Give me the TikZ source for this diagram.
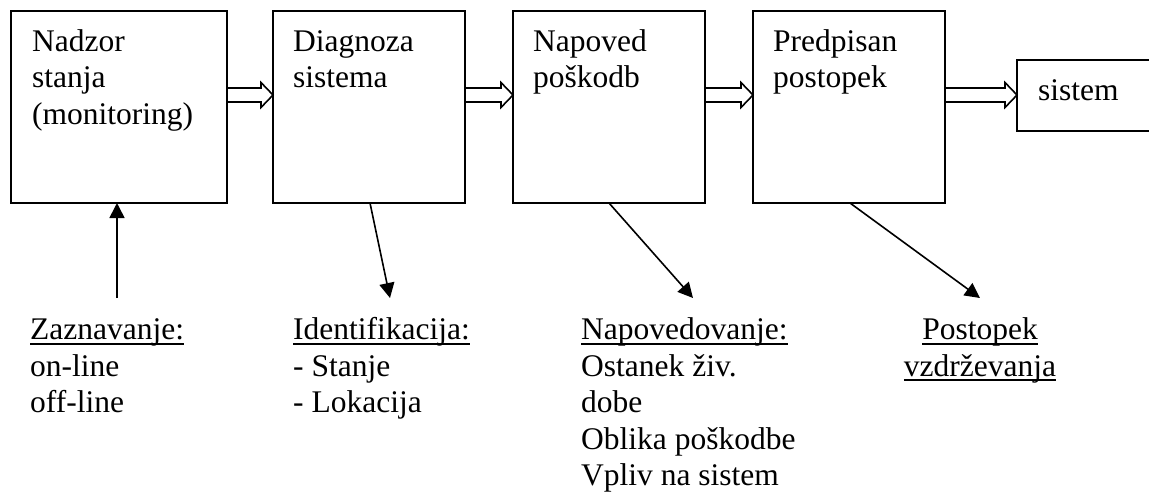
\documentclass[tikz,border=0pt]{standalone}
\usepackage{fontspec}
\setmainfont{Liberation Serif}
\usetikzlibrary{arrows.meta,calc}
\newcommand{\myul}[1]{\setbox0\hbox{#1}\rlap{\rule[-5pt]{\wd0}{1.8pt}}\box0}
\newcommand{\harr}[2]{\draw[hollow] ($(#1)+(0,-7)$) -- ($(#2)+(-12,-7)$) -- ($(#2)+(-12,-12.5)$) -- (#2) -- ($(#2)+(-12,12.5)$) -- ($(#2)+(-12,7)$) -- ($(#1)+(0,7)$) -- cycle;}
\begin{document}
\begin{tikzpicture}[x=1pt,y=-1pt,
  box/.style={draw, line width=1.6pt, inner sep=0pt, outer sep=0pt, anchor=north west},
  bigbox/.style={box, minimum width=192pt, minimum height=192pt},
  txt/.style={anchor=base west, inner sep=0pt, font=\fontsize{31.5}{36.5}\selectfont},
  ctxt/.style={txt, anchor=base},
  arr/.style={line width=1.6pt, -{Triangle[length=15pt,width=15pt]}},
  hollow/.style={line width=1.6pt, fill=white, line join=miter}]
\useasboundingbox (0,0) rectangle (1149,491);
\clip (0,0) rectangle (1149,491);
% boxes
\node[bigbox, minimum width=216pt] (b1) at (11,11) {};
\node[bigbox] (b2) at (273,11) {};
\node[bigbox] (b3) at (513,11) {};
\node[bigbox] (b4) at (753,11) {};
\node[box, minimum width=140pt, minimum height=71pt] (b5) at (1017,60) {};
% box texts
\node[txt] (n1a) at (32,51) {Nadzor};
\node[txt] (n1b) at (32,87.5) {stanja};
\node[txt] (n1c) at (32,124) {(monitoring)};
\node[txt] (n2a) at (293,51) {Diagnoza};
\node[txt] (n2b) at (293,87.5) {sistema};
\node[txt] (n3a) at (533,51) {Napoved};
\node[txt] (n3b) at (533,87.5) {poškodb};
\node[txt] (n4a) at (773,51) {Predpisan};
\node[txt] (n4b) at (773,87.5) {postopek};
\node[txt] (n5) at (1038,100) {sistem};
% hollow arrows
\coordinate (h1s) at ($(b1.north east)+(0,84)$);
\coordinate (h1e) at ($(b2.north west)+(0,84)$);
\coordinate (h2s) at ($(b2.north east)+(0,84)$);
\coordinate (h2e) at ($(b3.north west)+(0,84)$);
\coordinate (h3s) at ($(b3.north east)+(0,84)$);
\coordinate (h3e) at ($(b4.north west)+(0,84)$);
\coordinate (h4s) at ($(b4.north east)+(0,84)$);
\coordinate (h4e) at ($(b5.north west)+(0,35)$);
\harr{h1s}{h1e}
\harr{h2s}{h2e}
\harr{h3s}{h3e}
\harr{h4s}{h4e}
% bottom texts
\node[txt] (z1) at (30,339.5) {\myul{Zaznavanje:}};
\node[txt] (z2) at (30,376) {on-line};
\node[txt] (z3) at (30,412.5) {off-line};
\node[txt] (i1) at (293,339.5) {\myul{Identifikacija:}};
\node[txt] (i2) at (293,376) {- Stanje};
\node[txt] (i3) at (293,412.5) {- Lokacija};
\node[txt] (p1) at (581,339.5) {\myul{Napovedovanje:}};
\node[txt] (p2) at (581,376) {Ostanek živ.};
\node[txt] (p3) at (581,412.5) {dobe};
\node[txt] (p4) at (581,449) {Oblika poškodbe};
\node[txt] (p5) at (581,485.5) {Vpliv na sistem};
\node[ctxt] (v1) at (980,339.5) {\myul{Postopek}};
\node[ctxt] (v2) at (980,376) {\myul{vzdrževanja}};
% thin arrows
\coordinate (s1) at (117,298);
\draw[arr] (s1) -- (b1.south -| s1);
\coordinate (t2) at (390,298);
\draw[arr] ($(b2.south west)+(97,0)$) -- (t2);
\coordinate (t3) at (693,298);
\draw[arr] ($(b3.south west)+(96,0)$) -- (t3);
\coordinate (t4) at (980,298);
\draw[arr] ($(b4.south west)+(97,0)$) -- (t4);
\end{tikzpicture}
\end{document}
